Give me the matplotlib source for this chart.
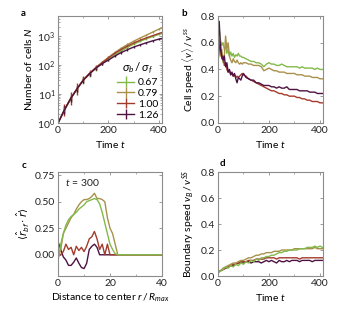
import matplotlib
matplotlib.use("Agg")
import matplotlib.pyplot as plt
import numpy as np

plt.rcParams['font.family'] = ['Lato', 'DejaVu Sans']
plt.rcParams['mathtext.fontset'] = 'custom'
plt.rcParams['mathtext.rm'] = 'Lato'
plt.rcParams['mathtext.it'] = 'Lato:italic'
plt.rcParams['mathtext.bf'] = 'Lato:bold'
plt.rcParams['font.size'] = 7.5

# ---------------- data ----------------
labels = ["0.67", "0.79", "1.00", "1.26"]
colors = ["#82b94a", "#a8914a", "#a33b2c", "#4d1241"]

# panel a: number of cells
t_a = [0, 25, 50, 75, 100, 125, 150, 175, 200, 225, 250, 275, 300, 325, 350, 375, 400, 410]
N_067 = [1, 2.8, 7, 15, 30, 50, 78, 115, 160, 225, 310, 410, 530, 660, 810, 970, 1150, 1220]
N_079 = [1, 2.9, 7, 15, 31, 52, 82, 125, 185, 270, 380, 510, 670, 860, 1080, 1380, 1750, 1900]
N_100 = [1, 2.8, 7, 15, 31, 52, 82, 122, 178, 255, 345, 455, 580, 720, 870, 1040, 1240, 1320]
N_126 = [1, 2.8, 7, 15, 30, 50, 78, 112, 150, 205, 270, 340, 420, 500, 590, 690, 790, 830]
Nerr_067 = [0, 0.08, 0.08, 0.10, 0.12, 0.10, 0.08, 0.06, 0.06, 0.05, 0.05, 0.04, 0.04, 0.03, 0.03, 0.03, 0.03, 0]
Nerr_079 = [0, 0.10, 0.10, 0.10, 0.08, 0.08, 0.07, 0.06, 0.05, 0.05, 0.05, 0.04, 0.04, 0.03, 0.03, 0.03, 0.03, 0]
Nerr_100 = [0, 0.20, 0.22, 0.20, 0.12, 0.10, 0.08, 0.07, 0.06, 0.05, 0.05, 0.05, 0.04, 0.04, 0.03, 0.03, 0.03, 0]
Nerr_126 = [0, 0.15, 0.12, 0.10, 0.08, 0.07, 0.06, 0.05, 0.05, 0.04, 0.04, 0.04, 0.03, 0.03, 0.03, 0.03, 0.03, 0]

# panel b: cell speed
t_b = [0, 5, 10, 15, 20, 25, 30, 35, 40, 45, 50, 55, 60, 65, 70, 75, 80, 85, 90, 95, 100,
       110, 120, 130, 140, 150, 160, 170, 180, 190, 200, 210, 220, 230, 240, 250, 260, 270,
       280, 290, 300, 310, 320, 330, 340, 350, 360, 370, 380, 390, 400, 410]
v_067 = [0.65, 0.70, 0.62, 0.58, 0.60, 0.55, 0.57, 0.52, 0.55, 0.50, 0.53, 0.50, 0.52, 0.49, 0.51,
         0.50, 0.52, 0.50, 0.50, 0.49, 0.49, 0.48, 0.47, 0.46, 0.46, 0.45, 0.45, 0.44, 0.42, 0.44,
         0.45, 0.44, 0.44, 0.43, 0.43, 0.44, 0.43, 0.42, 0.42, 0.42, 0.42, 0.42, 0.41, 0.42, 0.41,
         0.41, 0.41, 0.41, 0.40, 0.41, 0.40, 0.40]
v_079 = [0.58, 0.62, 0.50, 0.55, 0.45, 0.50, 0.65, 0.55, 0.60, 0.50, 0.47, 0.45, 0.48, 0.46, 0.45,
         0.47, 0.45, 0.44, 0.45, 0.44, 0.45, 0.45, 0.44, 0.44, 0.43, 0.43, 0.43, 0.42, 0.39, 0.40,
         0.41, 0.40, 0.39, 0.39, 0.38, 0.38, 0.38, 0.37, 0.37, 0.37, 0.37, 0.36, 0.36, 0.36, 0.35,
         0.35, 0.35, 0.34, 0.34, 0.34, 0.33, 0.33]
v_100 = [0.45, 0.55, 0.60, 0.48, 0.50, 0.43, 0.45, 0.40, 0.38, 0.39, 0.36, 0.37, 0.35, 0.36, 0.34,
         0.35, 0.34, 0.35, 0.36, 0.37, 0.36, 0.35, 0.33, 0.32, 0.31, 0.30, 0.29, 0.28, 0.27, 0.26,
         0.25, 0.24, 0.24, 0.23, 0.22, 0.22, 0.21, 0.21, 0.20, 0.20, 0.20, 0.19, 0.19, 0.18, 0.18,
         0.17, 0.17, 0.16, 0.16, 0.16, 0.15, 0.15]
v_126 = [0.62, 0.76, 0.55, 0.50, 0.47, 0.50, 0.42, 0.45, 0.38, 0.40, 0.36, 0.38, 0.35, 0.37, 0.33,
         0.30, 0.34, 0.33, 0.32, 0.35, 0.37, 0.34, 0.33, 0.32, 0.32, 0.30, 0.30, 0.29, 0.28, 0.28,
         0.28, 0.27, 0.27, 0.26, 0.27, 0.26, 0.26, 0.27, 0.25, 0.25, 0.25, 0.25, 0.24, 0.24, 0.24,
         0.24, 0.23, 0.23, 0.23, 0.22, 0.22, 0.22]

# panel c: alignment vs distance (t = 300)
r_c = list(range(0, 41))
c_067 = [-0.05, 0.10, 0.20, 0.28, 0.33, 0.36, 0.38, 0.40, 0.43, 0.45, 0.47, 0.50, 0.51, 0.52, 0.53,
         0.52, 0.48, 0.40, 0.30, 0.20, 0.10, 0.05, 0.01, 0, 0, 0, 0, 0, 0, 0, 0, 0, 0, 0, 0, 0, 0, 0, 0, 0, 0]
c_079 = [-0.03, 0.05, 0.20, 0.25, 0.30, 0.35, 0.38, 0.43, 0.47, 0.50, 0.52, 0.52, 0.53, 0.55, 0.58,
         0.53, 0.53, 0.52, 0.50, 0.35, 0.25, 0.20, 0.10, 0, 0, 0, 0, 0, 0, 0, 0, 0, 0, 0, 0, 0, 0, 0, 0, 0, 0]
c_100 = [0.00, 0.00, 0.03, 0.10, 0.05, 0.07, 0.00, 0.08, 0.04, 0.07, 0.03, 0.08, 0.15, 0.17, 0.22,
         0.15, 0.05, 0.10, 0.00, 0.10, 0.00, 0.00, 0, 0, 0, 0, 0, 0, 0, 0, 0, 0, 0, 0, 0, 0, 0, 0, 0, 0, 0]
c_126 = [0.12, 0.05, -0.02, -0.05, -0.10, -0.10, -0.07, -0.03, -0.08, -0.12, -0.13, -0.08, 0.05, 0.08, 0.10,
         0.07, 0.00, 0.00, 0.00, 0.00, 0.00, 0.00, 0, 0, 0, 0, 0, 0, 0, 0, 0, 0, 0, 0, 0, 0, 0, 0, 0, 0, 0]

# panel d: boundary speed
t_d = list(range(0, 411, 10))
vb_067 = [0.02, 0.04, 0.05, 0.07, 0.06, 0.08, 0.07, 0.09, 0.08, 0.10, 0.09, 0.11, 0.10, 0.12, 0.11,
          0.13, 0.12, 0.14, 0.14, 0.15, 0.15, 0.16, 0.16, 0.17, 0.18, 0.18, 0.19, 0.19, 0.20, 0.20,
          0.20, 0.20, 0.21, 0.21, 0.21, 0.22, 0.22, 0.22, 0.23, 0.22, 0.23, 0.22]
vb_079 = [0.03, 0.04, 0.06, 0.07, 0.08, 0.09, 0.10, 0.10, 0.11, 0.12, 0.12, 0.13, 0.14, 0.14, 0.15,
          0.16, 0.16, 0.17, 0.17, 0.18, 0.18, 0.18, 0.19, 0.19, 0.19, 0.20, 0.20, 0.20, 0.20, 0.20,
          0.21, 0.21, 0.21, 0.21, 0.21, 0.21, 0.21, 0.21, 0.22, 0.21, 0.21, 0.21]
vb_100 = [0.03, 0.04, 0.05, 0.06, 0.07, 0.08, 0.09, 0.09, 0.10, 0.11, 0.11, 0.11, 0.12, 0.12, 0.12,
          0.13, 0.13, 0.13, 0.13, 0.14, 0.14, 0.14, 0.14, 0.13, 0.14, 0.14, 0.14, 0.14, 0.14, 0.14,
          0.14, 0.14, 0.13, 0.14, 0.14, 0.14, 0.14, 0.14, 0.14, 0.14, 0.14, 0.14]
vb_126 = [0.03, 0.04, 0.05, 0.06, 0.07, 0.08, 0.08, 0.09, 0.10, 0.10, 0.10, 0.11, 0.11, 0.10, 0.11,
          0.11, 0.11, 0.10, 0.11, 0.12, 0.11, 0.12, 0.11, 0.10, 0.12, 0.11, 0.11, 0.12, 0.11, 0.12,
          0.12, 0.12, 0.11, 0.12, 0.12, 0.12, 0.12, 0.11, 0.12, 0.12, 0.12, 0.12]

# ---------------- figure ----------------
fig = plt.figure(figsize=(3.4, 3.2), dpi=100)
axA = fig.add_axes([0.171, 0.616, 0.305, 0.334])
axB = fig.add_axes([0.641, 0.616, 0.309, 0.334])
axC = fig.add_axes([0.171, 0.1375, 0.305, 0.325])
axD = fig.add_axes([0.641, 0.1375, 0.309, 0.325])

spine_col = "#8c8c8c"
for ax in (axA, axB, axC, axD):
    for s in ax.spines.values():
        s.set_color(spine_col)
        s.set_linewidth(0.8)
    ax.tick_params(direction="in", top=True, right=True, length=2.5, width=0.6,
                   color=spine_col, labelsize=7.5, pad=2, labelcolor="#222222")
    ax.tick_params(which="minor", direction="in", top=True, right=True, length=1.5,
                   width=0.5, color=spine_col)

lw = 1.0
# a
Ns = [N_067, N_079, N_100, N_126]
Nerrs = [Nerr_067, Nerr_079, Nerr_100, Nerr_126]
handles = []
for N, e, c, lab in zip(Ns, Nerrs, colors, labels):
    N = np.array(N, float)
    e = np.array(e, float)
    lo = N - N / (10 ** e)
    hi = N * (10 ** e) - N
    h = axA.errorbar(t_a, N, yerr=[lo, hi], color=c, lw=lw, elinewidth=1.0,
                     capsize=0, label=lab)
    handles.append(h)
axA.set_yscale("log")
axA.set_ylim(1, 5000)
axA.set_xlim(0, 412)
axA.set_xticks([0, 200, 400])
axA.set_xticks([100, 300], minor=True)
axA.set_ylabel("Number of cells $N$", fontsize=7.5, labelpad=2)
axA.set_xlabel("Time $t$", fontsize=7.5, labelpad=3)
leg = axA.legend(handles=handles, labels=labels, title=r"$\sigma_b\,/\,\sigma_f$",
                 loc="lower right", frameon=False, fontsize=7.5, title_fontsize=8.5,
                 handlelength=1.6, handletextpad=0.4, borderpad=0.1, labelspacing=0.15,
                 borderaxespad=0.2)

# b
for v, c in zip([v_067, v_079, v_100, v_126], colors):
    axB.plot(t_b, v, color=c, lw=lw)
axB.set_xlim(0, 412)
axB.set_ylim(0, 0.8)
axB.set_xticks([0, 200, 400])
axB.set_xticks([100, 300], minor=True)
axB.set_yticks([0.0, 0.2, 0.4, 0.6, 0.8])
axB.set_ylabel(r"Cell speed $\langle v\rangle\,/\,v^{ss}$", fontsize=7.5, labelpad=3)
axB.set_xlabel("Time $t$", fontsize=7.5, labelpad=3)

# c
for v, c in zip([c_126, c_100, c_079, c_067], [colors[3], colors[2], colors[1], colors[0]]):
    axC.plot(r_c, v, color=c, lw=lw)
axC.set_xlim(0, 40)
axC.set_ylim(-0.2, 0.78)
axC.set_xticks([0, 20, 40])
axC.set_xticks([10, 30], minor=True)
axC.set_yticks([0.0, 0.25, 0.5, 0.75])
axC.set_ylabel(r"$\langle \hat{r}_{bf}\cdot\hat{r}\rangle$", fontsize=7.5, labelpad=2,
               math_fontfamily="dejavusans")
axC.set_xlabel(r"Distance to center $r\,/\,R_{max}$", fontsize=7.5, labelpad=3)
axC.text(0.07, 0.9, "$t$ = 300", transform=axC.transAxes, fontsize=7.5,
         ha="left", va="center", color="#222222")

# d
for v, c in zip([vb_126, vb_100, vb_079, vb_067], [colors[3], colors[2], colors[1], colors[0]]):
    axD.plot(t_d, v, color=c, lw=lw)
axD.set_xlim(0, 412)
axD.set_ylim(0, 0.8)
axD.set_xticks([0, 200, 400])
axD.set_xticks([100, 300], minor=True)
axD.set_yticks([0.0, 0.2, 0.4, 0.6, 0.8])
axD.set_ylabel(r"Boundary speed $v_B\,/\,v^{SS}$", fontsize=7.5, labelpad=3)
axD.set_xlabel("Time $t$", fontsize=7.5, labelpad=3)

# panel letters
fig.text(23 / 340, 1 - 13 / 320, "a", fontsize=7, fontweight="bold", va="center", ha="center")
fig.text(184 / 340, 1 - 13 / 320, "b", fontsize=7, fontweight="bold", va="center", ha="center")
fig.text(24 / 340, 1 - 166 / 320, "c", fontsize=7, fontweight="bold", va="center", ha="center")
fig.text(222 / 340, 1 - 164 / 320, "d", fontsize=7, fontweight="bold", va="center", ha="center")

fig.savefig("out.png", dpi=100)
